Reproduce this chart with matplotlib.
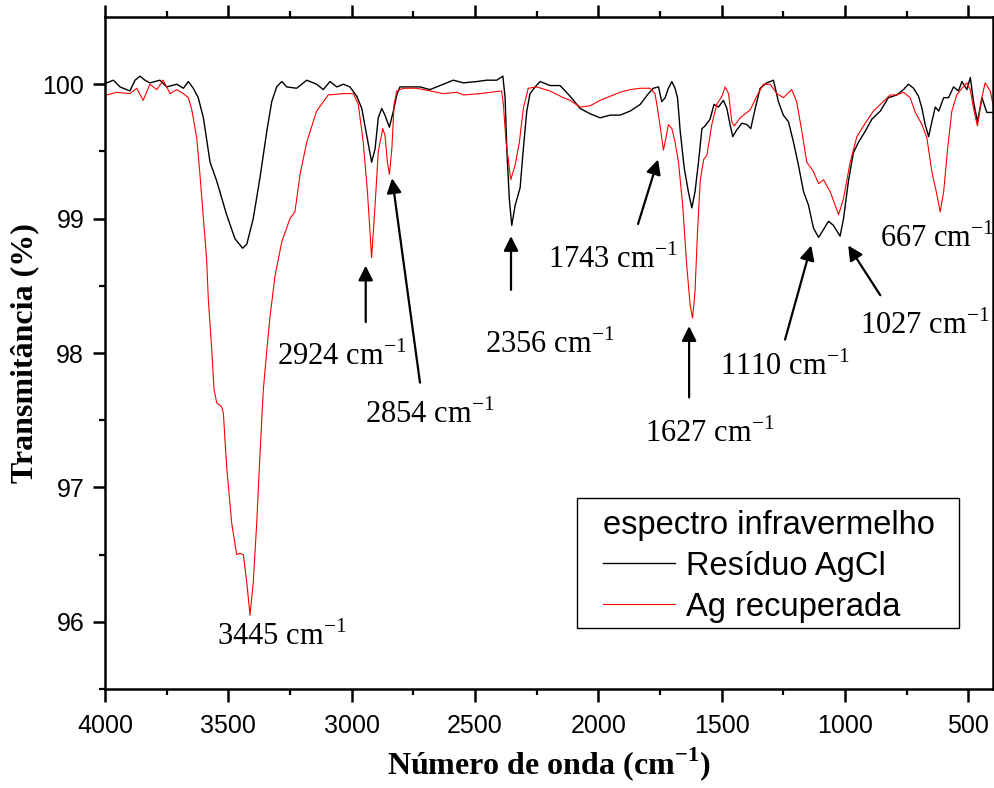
import matplotlib
matplotlib.use("Agg")
import matplotlib.pyplot as plt
from matplotlib.patches import Rectangle

plt.rcParams['mathtext.fontset'] = 'custom'
plt.rcParams['mathtext.rm'] = 'Liberation Serif'
plt.rcParams['mathtext.bf'] = 'Liberation Serif:bold'

# espectro do resíduo AgCl (número de onda em cm-1, transmitância em %)
onda_agcl = [3993, 3966, 3939, 3899, 3878, 3858, 3838, 3818, 3777, 3750, 3709, 3682,
             3662, 3642, 3622, 3601, 3574, 3547, 3507, 3473, 3442, 3425, 3399, 3372,
             3344, 3324, 3304, 3283, 3263, 3223, 3182, 3142, 3115, 3088, 3060, 3034,
             3007, 2979, 2959, 2939, 2919, 2905, 2892, 2878, 2865, 2847, 2831, 2817,
             2804, 2763, 2723, 2682, 2642, 2588, 2547, 2493, 2452, 2412, 2387, 2378,
             2371, 2361, 2351, 2337, 2317, 2304, 2290, 2277, 2256, 2236, 2196, 2155,
             2114, 2074, 2033, 1993, 1952, 1912, 1871, 1830, 1797, 1777, 1756, 1743,
             1729, 1716, 1702, 1689, 1679, 1668, 1652, 1635, 1621, 1608, 1594, 1580,
             1567, 1547, 1531, 1513, 1493, 1479, 1466, 1455, 1439, 1418, 1398, 1382,
             1364, 1344, 1317, 1290, 1270, 1250, 1229, 1209, 1189, 1168, 1148, 1128,
             1107, 1087, 1067, 1047, 1020, 1006, 986, 966, 945, 918, 891, 857, 824,
             790, 763, 743, 722, 702, 688, 675, 661, 648, 634, 620, 600, 580, 560,
             540, 526, 506, 492, 479, 463, 445, 425, 398]
trans_agcl = [100.01, 100.03, 99.98, 99.95, 100.03, 100.06, 100.03, 100.01, 100.03, 99.98,
              100.00, 99.97, 100.02, 99.97, 99.90, 99.75, 99.42, 99.28, 99.03, 98.85,
              98.78, 98.81, 99.00, 99.30, 99.65, 99.87, 99.98, 100.02, 99.98, 99.97,
              100.03, 100.00, 99.96, 100.02, 99.98, 100.00, 99.98, 99.91, 99.82, 99.62,
              99.42, 99.52, 99.75, 99.82, 99.77, 99.68, 99.80, 99.92, 99.98, 99.98,
              99.98, 99.96, 99.99, 100.03, 100.01, 100.02, 100.03, 100.03, 100.06, 99.90,
              99.52, 99.15, 98.95, 99.10, 99.23, 99.52, 99.80, 99.93, 99.98, 100.02,
              99.99, 99.99, 99.91, 99.82, 99.78, 99.75, 99.77, 99.77, 99.80, 99.85,
              99.93, 99.97, 99.98, 99.87, 99.90, 99.97, 100.02, 99.97, 99.90, 99.65,
              99.38, 99.20, 99.08, 99.20, 99.42, 99.67, 99.69, 99.74, 99.85, 99.83,
              99.88, 99.82, 99.70, 99.61, 99.66, 99.71, 99.70, 99.67, 99.82, 99.97,
              100.01, 100.03, 99.87, 99.77, 99.72, 99.57, 99.40, 99.20, 99.10, 98.93,
              98.86, 98.92, 98.98, 98.95, 98.87, 99.00, 99.28, 99.49, 99.57, 99.65,
              99.74, 99.80, 99.90, 99.92, 99.96, 100.00, 99.97, 99.91, 99.82, 99.70,
              99.61, 99.72, 99.83, 99.80, 99.90, 99.90, 99.98, 99.95, 100.02, 99.96,
              100.05, 99.87, 99.72, 99.90, 99.79, 99.79]

# espectro da prata recuperada
onda_ag = [3993, 3953, 3899, 3871, 3845, 3818, 3790, 3764, 3736, 3709, 3682, 3662,
           3648, 3628, 3615, 3601, 3588, 3581, 3567, 3558, 3547, 3534, 3527, 3520,
           3507, 3486, 3466, 3453, 3439, 3425, 3412, 3399, 3385, 3372, 3358, 3344,
           3331, 3311, 3297, 3283, 3250, 3230, 3209, 3182, 3142, 3095, 3034, 2993,
           2973, 2953, 2936, 2919, 2905, 2892, 2874, 2865, 2855, 2847, 2837, 2828,
           2817, 2790, 2736, 2682, 2628, 2574, 2547, 2479, 2392, 2385, 2374, 2355,
           2337, 2320, 2304, 2284, 2250, 2196, 2142, 2114, 2074, 2033, 1993, 1952,
           1912, 1871, 1830, 1790, 1770, 1756, 1736, 1725, 1716, 1702, 1689, 1675,
           1658, 1642, 1628, 1618, 1608, 1598, 1587, 1573, 1560, 1540, 1520, 1499,
           1486, 1472, 1459, 1449, 1425, 1384, 1358, 1331, 1304, 1276, 1250, 1216,
           1196, 1175, 1155, 1128, 1107, 1087, 1060, 1026, 1006, 979, 952, 918, 885,
           845, 817, 790, 763, 736, 715, 688, 668, 648, 630, 614, 600, 584, 567,
           547, 526, 506, 492, 479, 463, 445, 432, 411, 395]
trans_ag = [99.92, 99.94, 99.93, 99.97, 99.88, 100.00, 99.96, 100.03, 99.93, 99.96,
            99.93, 99.90, 99.81, 99.60, 99.33, 99.00, 98.70, 98.40, 98.02, 97.73,
            97.63, 97.61, 97.60, 97.55, 97.16, 96.73, 96.50, 96.51, 96.50, 96.29,
            96.05, 96.29, 96.73, 97.23, 97.73, 98.02, 98.27, 98.57, 98.70, 98.83,
            99.00, 99.05, 99.33, 99.57, 99.80, 99.92, 99.93, 99.93, 99.85, 99.57,
            99.20, 98.71, 99.10, 99.50, 99.67, 99.62, 99.42, 99.33, 99.52, 99.85,
            99.95, 99.97, 99.97, 99.95, 99.93, 99.94, 99.92, 99.93, 99.95, 99.85,
            99.57, 99.29, 99.40, 99.57, 99.82, 99.97, 99.98, 99.95, 99.90, 99.88,
            99.83, 99.84, 99.88, 99.91, 99.94, 99.96, 99.97, 99.97, 99.93, 99.77,
            99.51, 99.61, 99.70, 99.67, 99.57, 99.42, 99.10, 98.66, 98.36, 98.26,
            98.46, 98.90, 99.28, 99.44, 99.47, 99.70, 99.85, 99.91, 99.98, 99.93,
            99.72, 99.69, 99.75, 99.81, 99.91, 100.00, 100.00, 99.93, 99.90, 99.96,
            99.87, 99.65, 99.42, 99.35, 99.26, 99.29, 99.20, 99.03, 99.15, 99.42,
            99.61, 99.71, 99.80, 99.87, 99.92, 99.92, 99.94, 99.90, 99.79, 99.70,
            99.60, 99.35, 99.20, 99.05, 99.20, 99.52, 99.80, 99.92, 99.97, 100.01,
            99.96, 99.82, 99.69, 99.90, 100.01, 99.95, 99.80]

# bandas identificadas
bandas = ['3445', '2924', '2854', '2356', '1743', '1627', '1110', '1027', '667']
# canto inferior esquerdo de cada rótulo (x, y)
pos_rotulo = [(3546, 95.83), (3303, 97.91), (2946, 97.48), (2459, 98.00), (2204, 98.63),
              (1810, 97.34), (1506, 97.84), (938, 98.14), (858, 98.79)]
# setas: (início, ponta) ou None
setas = [None,
         ((2943, 98.23), (2943, 98.65)),
         ((2723, 97.78), (2836, 99.30)),
         ((2354, 98.47), (2354, 98.87)),
         ((1839, 98.96), (1758, 99.44)),
         ((1632, 97.67), (1632, 98.20)),
         ((1243, 98.10), (1137, 98.80)),
         ((857, 98.43), (987, 98.80)),
         None]

fig = plt.figure(figsize=(9.95, 7.88), dpi=100)
ax = fig.add_axes([0.1055, 0.1256, 0.8925, 0.8528])

l1, = ax.plot(onda_agcl, trans_agcl, color='black', lw=1.0, label='Resíduo AgCl')
l2, = ax.plot(onda_ag, trans_ag, color='red', lw=0.8, label='Ag recuperada')

ax.set_xlim(4000, 400)
ax.set_ylim(95.5, 100.5)
ax.set_xticks([4000, 3500, 3000, 2500, 2000, 1500, 1000, 500])
ax.set_xticks([3750, 3250, 2750, 2250, 1750, 1250, 750], minor=True)
ax.set_yticks([96, 97, 98, 99, 100])
ax.set_yticks([95.5, 96.5, 97.5, 98.5, 99.5], minor=True)

for s in ax.spines.values():
    s.set_linewidth(1.8)
ax.tick_params(which='major', direction='out', length=9, width=1.8, labelsize=18, pad=6)
ax.tick_params(which='minor', direction='out', length=4.5, width=1.6)
ax.tick_params(axis='x', which='both', top=True)
ax.tick_params(axis='x', which='major', pad=9)
for lab in ax.get_xticklabels() + ax.get_yticklabels():
    lab.set_fontfamily('Liberation Sans')

ax.set_xlabel(r'Número de onda (cm$^{\mathbf{-1}}$)', fontsize=23, fontweight='bold',
              family='Liberation Serif', labelpad=5)
ax.set_ylabel('Transmitância (%)', fontsize=23, fontweight='bold',
              family='Liberation Serif', labelpad=2)

# rótulos das bandas e setas
for nome, (tx, ty), seta in zip(bandas, pos_rotulo, setas):
    ax.text(tx, ty, nome + r' cm$^{-1}$', fontsize=22, family='Liberation Serif',
            ha='left', va='baseline', clip_on=False)
    if seta is not None:
        ax.annotate('', xy=seta[1], xytext=seta[0],
                    arrowprops=dict(arrowstyle='-|>', color='black', lw=1.6,
                                    mutation_scale=22, shrinkA=0, shrinkB=0))

# legenda com moldura retangular
leg = ax.legend(handles=[l1, l2], title='espectro infravermelho', loc='upper left',
                bbox_to_anchor=(0.5608, 0.2664), frameon=False, borderpad=0,
                borderaxespad=0, handlelength=2.2, handletextpad=0.34,
                labelspacing=0.3, alignment='left',
                prop={'family': 'Liberation Sans', 'size': 23.5},
                title_fontproperties={'family': 'Liberation Sans', 'size': 23.5})
ax.add_patch(Rectangle((0.5315, 0.0908), 0.4302, 0.1935, transform=ax.transAxes,
                       fill=False, edgecolor='black', lw=1.0, zorder=5))

fig.savefig('out.png', dpi=100)
